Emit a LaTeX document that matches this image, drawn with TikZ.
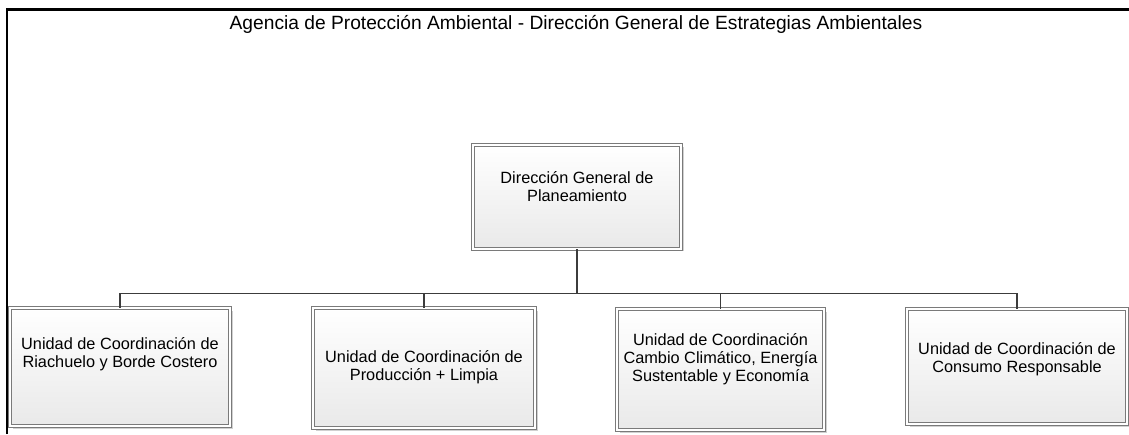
\documentclass[tikz,border=0pt]{standalone}
\usepackage{fontspec}
\setmainfont{Liberation Sans}
\usepackage{tikz}
\usetikzlibrary{shadows}

\definecolor{boxline}{HTML}{7A7A7A}
\definecolor{boxfill}{HTML}{E9E9E9}
\definecolor{wire}{HTML}{3C3C3C}

\tikzset{
  orgbox/.style={rectangle, draw=boxline, line width=0.9pt, double=white, double distance=1.3pt,
    top color=white, bottom color=boxfill, inner sep=0pt,
    drop shadow={shadow xshift=2.5pt, shadow yshift=-2.5pt, fill=black!18, opacity=1}},
  orgtext/.style={align=center, font=\fontsize{16.3}{18}\selectfont, inner sep=0pt},
  wire/.style={draw=wire, line width=1.4pt}
}

\begin{document}
\begin{tikzpicture}[x=1pt, y=1pt]
    \useasboundingbox (0,0) rectangle (1129,434);
    \fill[white] (0,0) rectangle (1129,434);

    % frame and heading
    \draw[line width=2.2pt] (7.3,0) -- (7.3,424.5) -- (1129,424.5);
    \node[orgtext, font=\fontsize{19.2}{21}\selectfont, anchor=base] (title) at (576,404) {Agencia de Protección Ambiental - Dirección General de Estrategias Ambientales};

    % boxes
    \node[orgbox, minimum width=208, minimum height=104] (dg) at (577,237) {};
    \node[orgbox, minimum width=220, minimum height=118] (u1) at (120,67) {};
    \node[orgbox, minimum width=222, minimum height=120] (u2) at (424,66) {};
    \node[orgbox, minimum width=207, minimum height=121] (u3) at (720.5,64.5) {};
    \node[orgbox, minimum width=220, minimum height=115] (u4) at (1017,67.5) {};

    % texts
    \node[orgtext] (dgtext) at ([yshift=-42.5]dg.north) {Dirección General de\\Planeamiento};
    \node[orgtext] (u1text) at ([yshift=-47]u1.north) {Unidad de Coordinación de\\Riachuelo y Borde Costero};
    \node[orgtext] (u2text) at ([yshift=-59.5]u2.north) {Unidad de Coordinación de\\Producción + Limpia};
    \node[orgtext] (u3text) at ([yshift=-51]u3.north) {Unidad de Coordinación\\Cambio Climático, Energía\\Sustentable y Economía};
    \node[orgtext] (u4text) at ([yshift=-51]u4.north) {Unidad de Coordinación de\\Consumo Responsable};

    % connectors
    \coordinate (bus) at (577,140.5);
    \draw[wire] (dg.south) -- (bus);
    \foreach \u in {u1,u2,u3,u4}
        \draw[wire] (bus) -| (\u.north);
\end{tikzpicture}
\end{document}
